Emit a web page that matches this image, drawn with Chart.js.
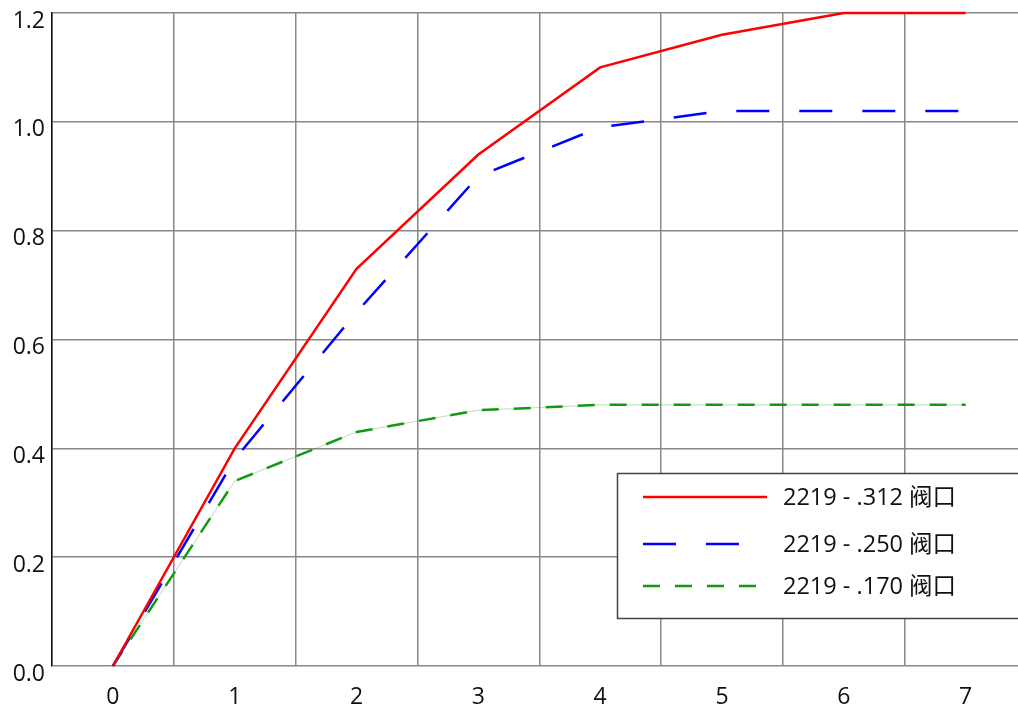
<!DOCTYPE html>
<html>
<head>
<meta charset="utf-8">
<script src="https://cdn.jsdelivr.net/npm/chart.js@4"></script>
<style>
  html, body { margin: 0; padding: 0; background: #fff; }
  #wrap { width: 1018px; height: 711px; }
</style>
</head>
<body>
<div id="wrap"><canvas id="flow-chart"></canvas></div>
<script>
const xValues = [0, 1, 2, 3, 4, 5, 6, 7];
const seriesLabels = ["2219 - .312 阀口", "2219 - .250 阀口", "2219 - .170 阀口"];
const red312 = [0, 0.40, 0.73, 0.94, 1.10, 1.16, 1.20, 1.20];
const blue250 = [0, 0.38, 0.65, 0.90, 0.99, 1.02, 1.02, 1.02];
const green170 = [0, 0.34, 0.43, 0.47, 0.48, 0.48, 0.48, 0.48];
const yTicks = [0, 0.2, 0.4, 0.6, 0.8, 1.0, 1.2];

const FONT = "'Open Sans', 'Noto Sans', 'Noto Sans CJK SC', sans-serif";

function toPoints(values) {
  return xValues.map((x, i) => ({ x: x, y: values[i] }));
}

// boxed legend at the lower right, like the original
const boxLegend = {
  id: "boxLegend",
  afterDraw(chart) {
    const ctx = chart.ctx;
    const shown = chart.data.datasets.filter((ds) => !ds.hideInLegend);
    ctx.save();
    ctx.fillStyle = "#fff";
    ctx.fillRect(617, 473, 410, 145);
    ctx.strokeStyle = "#444";
    ctx.lineWidth = 1.5;
    ctx.strokeRect(617.5, 473.5, 410, 145);
    const rows = [497, 544, 586];
    shown.forEach((ds, i) => {
      const y = rows[i];
      ctx.beginPath();
      ctx.setLineDash(ds.borderDash || []);
      ctx.strokeStyle = ds.borderColor;
      ctx.lineWidth = ds.borderWidth;
      ctx.moveTo(643, y);
      ctx.lineTo(767, y);
      ctx.stroke();
      ctx.setLineDash([]);
      ctx.fillStyle = "#111";
      ctx.font = "23.5px " + FONT;
      ctx.textBaseline = "middle";
      ctx.fillText(ds.label, 783, y + 1);
    });
    ctx.restore();
  },
};

const ctx = document.getElementById("flow-chart").getContext("2d");
const flowChart = new Chart(ctx, {
  type: "line",
  data: {
    datasets: [
      {
        label: seriesLabels[0],
        data: toPoints(red312),
        borderColor: "#ff0000",
        borderWidth: 2.5,
        pointRadius: 0,
        clip: false,
      },
      {
        label: seriesLabels[1],
        data: toPoints(blue250),
        borderColor: "#0000ff",
        borderWidth: 2.5,
        borderDash: [33, 30],
        pointRadius: 0,
        clip: false,
      },
      {
        label: seriesLabels[2],
        data: toPoints(green170),
        borderColor: "#119911",
        borderWidth: 2.5,
        borderDash: [17, 15],
        pointRadius: 0,
        clip: false,
      },
      {
        label: "thin",
        data: toPoints(green170),
        borderColor: "rgba(17,153,17,0.3)",
        borderWidth: 1,
        pointRadius: 0,
        hideInLegend: true,
        clip: false,
      },
    ],
  },
  options: {
    responsive: true,
    maintainAspectRatio: false,
    animation: false,
    layout: { padding: { top: 13, right: 0, left: 0, bottom: 0 } },
    plugins: {
      legend: { display: false },
      tooltip: { enabled: false },
    },
    scales: {
      x: {
        type: "linear",
        min: -0.5,
        max: 7.43,
        afterBuildTicks: (axis) => {
          const ticks = [];
          for (let v = -0.5; v <= 7.0; v += 0.5) ticks.push({ value: v });
          axis.ticks = ticks;
        },
        afterFit: (axis) => {
          axis.height = 45;
          axis.paddingLeft = 0;
          axis.paddingRight = 0;
        },
        grid: {
          color: (c) => (c.tick && Math.abs(c.tick.value % 1) === 0.5 ? "#888" : "rgba(0,0,0,0)"),
          lineWidth: 1.5,
          drawTicks: false,
        },
        border: { display: false },
        ticks: {
          autoSkip: false,
          maxRotation: 0,
          padding: 18,
          color: "#111",
          font: { family: FONT, size: 23 },
          callback: (v) => (Number.isInteger(v) ? String(v) : ""),
        },
      },
      y: {
        min: 0,
        max: 1.2,
        afterBuildTicks: (axis) => {
          axis.ticks = yTicks.map((v) => ({ value: v }));
        },
        afterFit: (axis) => {
          axis.width = 52;
          axis.paddingTop = 0;
          axis.paddingBottom = 0;
        },
        grid: {
          color: "#888",
          lineWidth: 1.5,
          drawTicks: false,
        },
        border: { display: true, color: "#111", width: 1.5 },
        ticks: {
          padding: 7,
          color: "#111",
          font: { family: FONT, size: 23, lineHeight: "16px" },
          // blank first line pushes the number just below its grid line
          callback: (v) => ["", v.toFixed(1)],
        },
      },
    },
  },
  plugins: [boxLegend],
});
</script>
</body>
</html>
